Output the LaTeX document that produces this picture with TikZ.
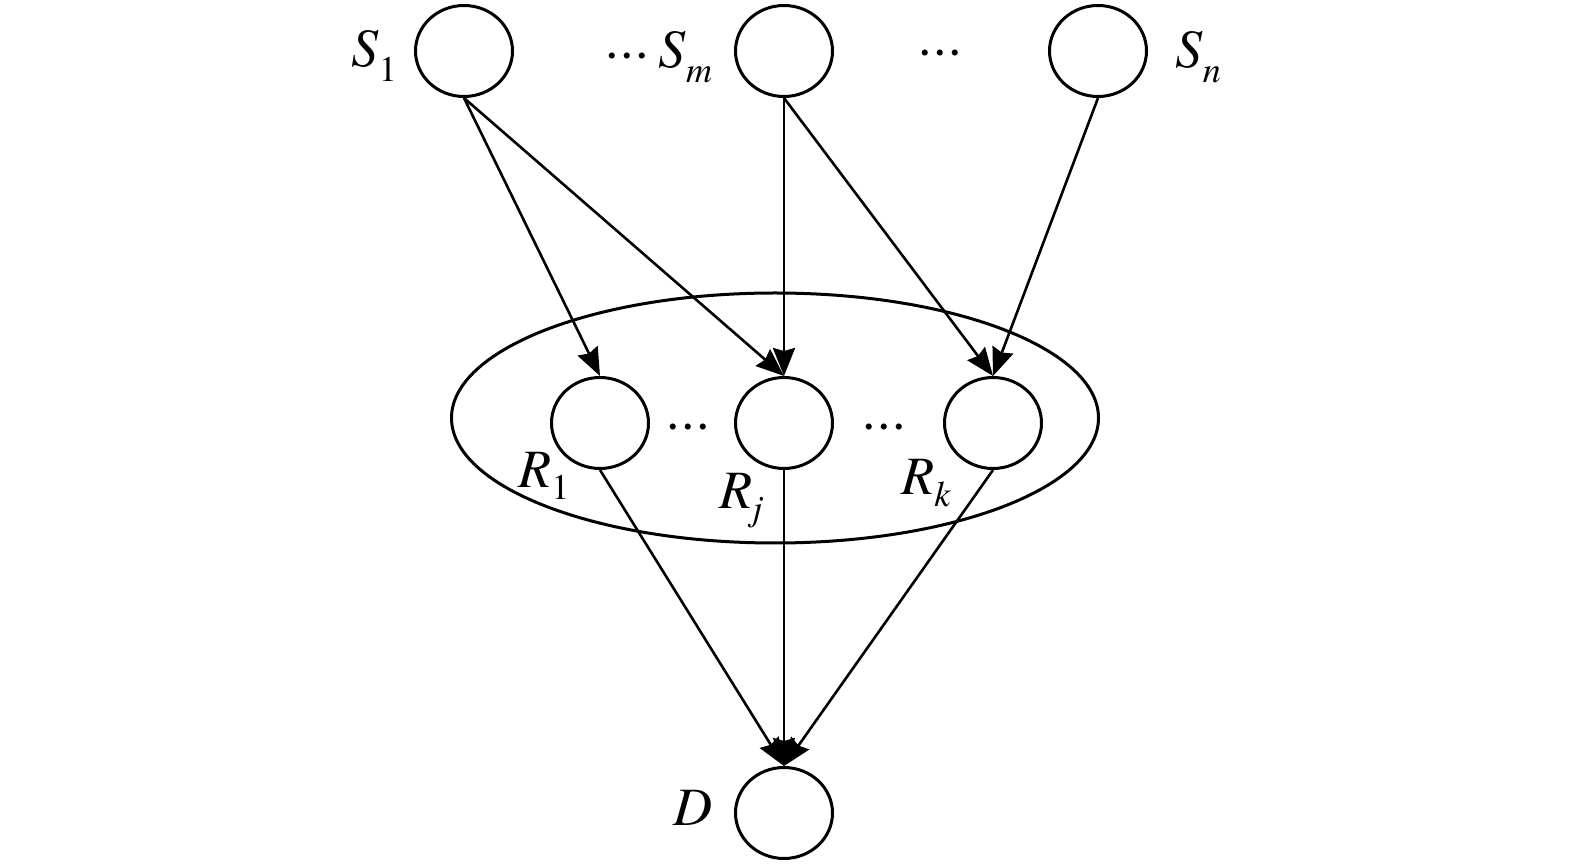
\documentclass[tikz,border=0pt]{standalone}
\usepackage{fontspec}
\setmainfont{TeX Gyre Termes}
\usetikzlibrary{arrows.meta,shapes.geometric}
\newcommand{\subS}[2]{\textit{#1}\raisebox{-7.5pt}{\fontsize{18pt}{18pt}\selectfont #2}}
\newcommand{\subR}[2]{\textit{#1}\raisebox{-6pt}{\fontsize{18pt}{18pt}\selectfont #2}}
\newcommand{\mydots}{\raisebox{-1pt}{·\kern0.7pt·\kern0.7pt·}}
\begin{document}
\begin{tikzpicture}[x=0.5pt,y=-0.5pt,
  circ/.style={draw,line width=1.5pt,ellipse,minimum width=48.5pt,minimum height=45.5pt,inner sep=0pt},
  grp/.style={draw,line width=1.5pt,ellipse,minimum width=323.5pt,minimum height=125pt,inner sep=0pt},
  arr/.style={line width=1.3pt,-{Stealth[length=14pt,width=11pt,inset=1.5pt]}},
  lab/.style={anchor=base west,inner sep=0pt,font=\fontsize{27pt}{27pt}\selectfont},
  dotsl/.style={anchor=base,inner sep=0pt,font=\fontsize{27pt}{27pt}\selectfont}]
\useasboundingbox (0,0) rectangle (1575,865);
% group ellipse
\node[grp] (G) at (775,418) {};
% sources
\node[circ] (S1) at (464,51) {};
\node[circ] (Sm) at (784,51) {};
\node[circ] (Sn) at (1098,51) {};
% relays
\node[circ] (R1) at (600,423) {};
\node[circ] (Rj) at (784,423) {};
\node[circ] (Rk) at (993,423) {};
% destination
\node[circ] (D) at (784,813) {};
% labels
\node[lab] (lS1) at (351,67) {\subS{S}{1}};
\node[lab] (lSm) at (605,68) {\mydots\kern5pt\subS{S}{\textit{m}}};
\node[dotsl] (d1) at (940,65) {\mydots};
\node[lab] (lSn) at (1175,68) {\subS{S}{\textit{n}}};
\node[dotsl] (d2) at (688,439) {\mydots};
\node[dotsl] (d3) at (884,439) {\mydots};
\node[lab] (lR1) at (518,488) {\subR{R}{1}};
\node[lab] (lRj) at (719,509) {\subR{R}{\textit{j}}};
\node[lab] (lRk) at (901,495) {\subR{R}{\textit{k}}};
\node[lab] (lD) at (673,825) {\textit{D}};
% connectors
\draw[arr] (S1.south) -- (R1.north);
\draw[arr] (S1.south) -- (Rj.north);
\draw[arr] (Sm.south) -- (Rj.north);
\draw[arr] (Sm.south) -- (Rk.north);
\draw[arr] (Sn.south) -- (Rk.north);
\draw[arr] (R1.south) -- (D.north);
\draw[arr] (Rj.south) -- (D.north);
\draw[arr] (Rk.south) -- (D.north);
\end{tikzpicture}
\end{document}
